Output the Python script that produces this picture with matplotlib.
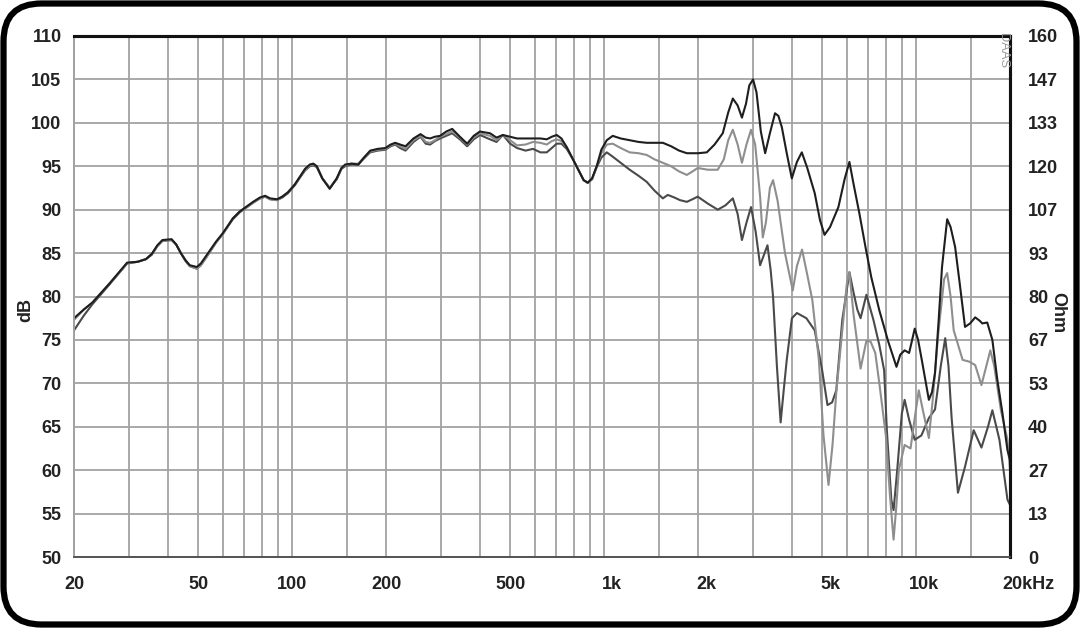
import matplotlib
matplotlib.use("Agg")
import matplotlib.pyplot as plt
from matplotlib.patches import FancyBboxPatch
from matplotlib.transforms import ScaledTranslation

# ---------------- data : (frequency Hz, level dB) ----------------
curve_a = [  # darkest / top trace
    (20, 77.5), (21.5, 78.5), (22.9, 79.3), (26, 81.5), (29.6, 83.9), (32, 84.0), (34, 84.3),
    (35.5, 84.9), (37, 85.9), (38.4, 86.5), (41.1, 86.6), (42.5, 86.0), (44, 85.0), (45.5, 84.2),
    (47, 83.6), (49.5, 83.4), (51, 83.8), (53.3, 84.8), (57, 86.3), (60, 87.3), (64.6, 89.0),
    (68, 89.8), (71.7, 90.4), (75, 90.9), (78.9, 91.4), (82, 91.6), (85, 91.3), (89.5, 91.2),
    (93, 91.5), (97, 92.0), (102, 92.9), (106, 93.8), (110, 94.7), (114, 95.2), (117, 95.3),
    (120, 95.0), (125, 93.6), (132, 92.4), (139, 93.6), (144, 94.8), (148, 95.2), (155, 95.3),
    (163, 95.2), (170, 96.0), (178, 96.8), (188, 97.0), (199, 97.1), (207, 97.5), (214, 97.7),
    (222, 97.5), (231, 97.3), (245, 98.2), (258, 98.7), (268, 98.3), (277, 98.2), (287, 98.4),
    (298, 98.5), (312, 99.0), (326, 99.3), (345, 98.4), (364, 97.6), (382, 98.5), (400, 99.0),
    (431, 98.8), (452, 98.3), (474, 98.6), (500, 98.4), (526, 98.2), (560, 98.2), (592, 98.2),
    (625, 98.2), (655, 98.1), (680, 98.4), (705, 98.6), (730, 98.2), (759, 97.2), (795, 95.8),
    (835, 94.3), (860, 93.4), (886, 93.1), (915, 93.6), (947, 95.0), (980, 96.9), (1020, 98.0),
    (1066, 98.5), (1130, 98.2), (1208, 98.0), (1290, 97.8), (1370, 97.7), (1450, 97.7),
    (1543, 97.7), (1640, 97.3), (1740, 96.8), (1842, 96.5), (2000, 96.5), (2134, 96.6),
    (2260, 97.5), (2401, 98.8), (2500, 101.2), (2586, 102.8), (2680, 102.0), (2766, 100.6),
    (2850, 102.2), (2920, 104.3), (3003, 105.0), (3080, 103.5), (3180, 99.0), (3283, 96.5),
    (3400, 98.8), (3531, 101.1), (3620, 100.8), (3713, 99.5), (3850, 96.5), (3997, 93.6),
    (4150, 95.5), (4303, 96.6), (4480, 94.8), (4733, 91.9), (4920, 88.8), (5088, 87.1),
    (5300, 88.0), (5637, 90.3), (5900, 93.5), (6114, 95.5), (6300, 93.0), (6578, 89.6),
    (6900, 85.5), (7187, 82.2), (7625, 78.4), (8144, 74.8), (8654, 71.9), (8900, 73.3),
    (9190, 73.8), (9500, 73.5), (9902, 76.3), (10150, 75.0), (10430, 72.7), (10990, 68.1),
    (11250, 69.0), (11500, 71.2), (11800, 77.0), (12110, 83.4), (12580, 88.9), (12900, 88.0),
    (13340, 85.7), (13800, 81.5), (14350, 76.5), (14900, 76.9), (15470, 77.6), (16000, 77.2),
    (16300, 76.9), (16910, 77.0), (17560, 75.0), (18200, 70.5), (18910, 66.6), (19630, 62.3),
    (20000, 61.2),
]

curve_b = [  # light grey trace
    (20, 77.3), (21.5, 78.5), (22.9, 79.3), (26, 81.5), (29.6, 83.8), (32, 84.0), (34, 84.3),
    (35.5, 84.9), (37, 85.8), (38.4, 86.4), (41.1, 86.5), (42.5, 86.0), (44, 85.0), (45.5, 84.2),
    (47, 83.5), (49.5, 83.2), (51, 83.6), (53.3, 84.6), (57, 86.2), (60, 87.2), (64.6, 89.0),
    (68, 89.8), (71.7, 90.3), (75, 90.8), (78.9, 91.3), (82, 91.5), (85, 91.2), (89.5, 91.1),
    (93, 91.5), (97, 92.0), (102, 92.9), (106, 93.8), (110, 94.6), (114, 95.1), (117, 95.2),
    (120, 95.0), (125, 93.6), (132, 92.5), (139, 93.6), (144, 94.8), (148, 95.1), (155, 95.3),
    (163, 95.3), (170, 96.0), (178, 96.7), (188, 96.9), (199, 97.0), (207, 97.4), (214, 97.6),
    (222, 97.3), (231, 97.0), (245, 98.0), (258, 98.5), (268, 97.8), (277, 97.7), (287, 98.0),
    (298, 98.4), (312, 98.7), (326, 99.0), (345, 98.3), (364, 97.5), (382, 98.3), (400, 98.8),
    (431, 98.5), (452, 98.0), (474, 98.6), (500, 98.0), (526, 97.4), (560, 97.5), (592, 97.8),
    (625, 97.7), (655, 97.5), (680, 97.9), (705, 98.1), (730, 97.9), (759, 97.2), (795, 95.8),
    (835, 94.3), (860, 93.4), (886, 93.1), (915, 93.5), (947, 95.0), (980, 96.5), (1020, 97.5),
    (1066, 97.6), (1130, 97.1), (1208, 96.6), (1290, 96.5), (1370, 96.3), (1450, 95.8),
    (1543, 95.4), (1640, 95.0), (1740, 94.4), (1842, 94.0), (1920, 94.4), (1996, 94.8),
    (2150, 94.6), (2314, 94.6), (2420, 95.8), (2500, 98.0), (2586, 99.2), (2680, 97.5),
    (2766, 95.4), (2860, 97.5), (2958, 99.2), (3050, 97.5), (3163, 91.5), (3226, 86.8),
    (3300, 88.5), (3400, 92.5), (3480, 93.4), (3600, 91.0), (3800, 85.0), (4025, 80.7),
    (4150, 83.5), (4310, 85.4), (4480, 82.5), (4650, 79.6), (4880, 72.7), (5050, 64.0),
    (5240, 58.3), (5400, 63.0), (5550, 69.0), (5800, 76.0), (6000, 81.5), (6114, 82.8),
    (6300, 78.0), (6640, 71.7), (6800, 73.5), (6930, 74.9), (7150, 74.8), (7400, 73.5),
    (7625, 70.0), (8000, 64.0), (8250, 57.0), (8470, 52.0), (8650, 56.0), (8800, 60.0),
    (9190, 62.9), (9600, 62.5), (9900, 66.0), (10200, 69.2), (10500, 67.0), (10990, 63.7),
    (11300, 68.0), (11800, 76.0), (12300, 82.0), (12580, 82.7), (12900, 80.0), (13200, 76.1),
    (14100, 72.7), (14800, 72.5), (15470, 72.1), (16200, 69.8), (16800, 72.0), (17300, 73.8),
    (17800, 72.0), (18700, 66.9), (19630, 63.5), (20000, 60.0),
]

curve_c = [  # dark grey trace
    (20, 76.1), (21.5, 77.8), (22.9, 79.1), (26, 81.4), (29.6, 83.8), (32, 84.0), (34, 84.3),
    (35.5, 84.8), (37, 85.8), (38.4, 86.4), (41.1, 86.5), (42.5, 86.0), (44, 85.0), (45.5, 84.1),
    (47, 83.5), (49.5, 83.2), (51, 83.6), (53.3, 84.6), (57, 86.2), (60, 87.2), (64.6, 88.9),
    (68, 89.7), (71.7, 90.3), (75, 90.8), (78.9, 91.3), (82, 91.5), (85, 91.2), (89.5, 91.1),
    (93, 91.4), (97, 91.9), (102, 92.8), (106, 93.7), (110, 94.5), (114, 95.0), (117, 95.1),
    (120, 94.9), (125, 93.6), (132, 92.5), (139, 93.5), (144, 94.7), (148, 95.0), (155, 95.2),
    (163, 95.2), (170, 95.9), (178, 96.6), (188, 96.8), (199, 96.9), (207, 97.3), (214, 97.5),
    (222, 97.1), (231, 96.8), (245, 97.8), (258, 98.4), (268, 97.6), (277, 97.5), (287, 97.9),
    (298, 98.2), (312, 98.5), (326, 98.8), (345, 98.1), (364, 97.3), (382, 98.1), (400, 98.6),
    (431, 98.1), (452, 97.8), (474, 98.6), (500, 97.6), (526, 97.1), (560, 96.8), (592, 97.0),
    (625, 96.6), (655, 96.6), (680, 97.1), (705, 97.6), (730, 97.6), (759, 97.0), (795, 95.8),
    (835, 94.3), (860, 93.4), (886, 93.1), (915, 93.5), (947, 94.9), (980, 96.0), (1020, 96.6),
    (1066, 96.1), (1130, 95.4), (1208, 94.6), (1290, 93.9), (1370, 93.2), (1450, 92.2),
    (1543, 91.3), (1600, 91.7), (1680, 91.4), (1750, 91.1), (1842, 90.9), (1920, 91.2),
    (1996, 91.5), (2150, 90.7), (2314, 90.0), (2450, 90.5), (2586, 91.3), (2680, 89.5),
    (2766, 86.5), (2860, 88.5), (2958, 90.3), (3060, 87.5), (3163, 83.6), (3340, 85.9),
    (3420, 83.0), (3480, 80.0), (3580, 72.0), (3680, 65.5), (3760, 69.0), (3850, 72.7),
    (4000, 77.5), (4150, 78.1), (4300, 77.8), (4450, 77.5), (4733, 76.1), (5000, 71.5),
    (5200, 67.5), (5380, 67.8), (5550, 69.2), (5800, 77.3), (6114, 82.8), (6300, 80.5),
    (6480, 78.5), (6640, 77.5), (6930, 80.2), (7300, 77.3), (7625, 74.4), (7900, 71.5),
    (8060, 64.6), (8330, 56.6), (8470, 55.4), (8700, 60.0), (9000, 66.5), (9190, 68.1),
    (9500, 65.8), (9900, 63.5), (10400, 64.0), (10990, 66.0), (11500, 67.0), (12000, 72.0),
    (12400, 75.2), (12700, 72.0), (13000, 66.0), (13620, 57.4), (14350, 60.4), (15300, 64.6),
    (16200, 62.6), (17000, 65.0), (17560, 66.9), (18500, 63.5), (19630, 56.6), (20000, 56.0),
]

x_ticks = [20, 50, 100, 200, 500, 1000, 2000, 5000, 10000, 20000]
x_labels = ["20", "50", "100", "200", "500", "1k", "2k", "5k", "10k", "20kHz"]
x_grid = [30, 40, 60, 70, 80, 90, 150, 300, 400, 600, 700, 800, 900, 1500, 3000, 4000,
          6000, 7000, 8000, 9000, 15000]
db_ticks = [50, 55, 60, 65, 70, 75, 80, 85, 90, 95, 100, 105, 110]
ohm_labels = ["0", "13", "27", "40", "53", "67", "80", "93", "107", "120", "133", "147", "160"]

# ---------------- figure ----------------
FONT = "Liberation Sans"
fig = plt.figure(figsize=(10.8, 6.28), dpi=100)
fig.patch.set_facecolor("white")
ax = fig.add_axes([74 / 1080, 1 - 557 / 628, (1010 - 74) / 1080, (557 - 36) / 628])

grid_col = "#a2a2a2"
ax.set_xscale("log")
ax.set_xlim(20, 20000)
ax.set_ylim(50, 110)

for f in x_ticks[1:-1] + x_grid:
    ax.axvline(f, color=grid_col, lw=1.3, zorder=1)
for d in db_ticks[1:-1]:
    ax.axhline(d, color=grid_col, lw=1.3, zorder=1)

for data, col, z in ((curve_c, "#4a4a4a", 3), (curve_b, "#8e8e8e", 4), (curve_a, "#1e1e1e", 5)):
    fx, fy = zip(*data)
    ax.plot(fx, fy, color=col, lw=1.5, zorder=z, solid_joinstyle="round")

ax.xaxis.set_minor_locator(matplotlib.ticker.NullLocator())
ax.set_xticks(x_ticks)
ax.set_xticklabels(x_labels)
ax.set_yticks(db_ticks)
ax.set_yticklabels([str(v) for v in db_ticks])
ax.tick_params(axis="both", length=0, labelsize=13)
ax.tick_params(axis="x", pad=14)
ax.tick_params(axis="y", pad=9)
for lab in ax.get_xticklabels() + ax.get_yticklabels():
    lab.set_fontfamily(FONT)
    lab.set_fontweight("bold")
    lab.set_color("#222222")

# shift suffixed labels so the number part sits on its gridline
for lab in ax.get_xticklabels():
    t = lab.get_text()
    suffix = t.lstrip("0123456789")
    if suffix:
        dx = (0.28 * 13 * (1 if suffix == "k" else 3.0)) / 72.0 + 0.03
        lab.set_transform(lab.get_transform() + ScaledTranslation(dx, 0, fig.dpi_scale_trans))

ax2 = ax.twinx()
ax2.set_ylim(0, 160)
ax2.set_yticks([i * 160 / 12 for i in range(13)])
ax2.set_yticklabels(ohm_labels)
ax2.tick_params(axis="y", length=0, labelsize=13, pad=13)
for lab in ax2.get_yticklabels():
    lab.set_fontfamily(FONT)
    lab.set_fontweight("bold")
    lab.set_color("#222222")

for a in (ax, ax2):
    a.spines["top"].set_color("#111111")
    a.spines["top"].set_linewidth(2.2)
    a.spines["right"].set_color("#111111")
    a.spines["right"].set_linewidth(2.2)
    a.spines["left"].set_color(grid_col)
    a.spines["left"].set_linewidth(1.3)
    a.spines["bottom"].set_color("#555555")
    a.spines["bottom"].set_linewidth(1.3)

fig.text(26 / 1080, 1 - 310 / 628, "dB", rotation=90, ha="center", va="center",
         fontsize=13, fontweight="bold", family=FONT, color="#222222")
fig.text(1058 / 1080, 1 - 313 / 628, "Ohm", rotation=270, ha="center", va="center",
         fontsize=13, fontweight="bold", family=FONT, color="#222222")
fig.text(1003 / 1080, 1 - 51 / 628, "DAAS", rotation=270, ha="center", va="center",
         fontsize=9.3, family=FONT, color="#9a9a9a")

border = FancyBboxPatch((3.5, 3.5), 1073, 621, boxstyle="round,pad=0,rounding_size=38",
                        transform=None, fill=False, lw=4.5, ec="black")
fig.patches.append(border)

fig.savefig("out.png", dpi=100, facecolor="white")
